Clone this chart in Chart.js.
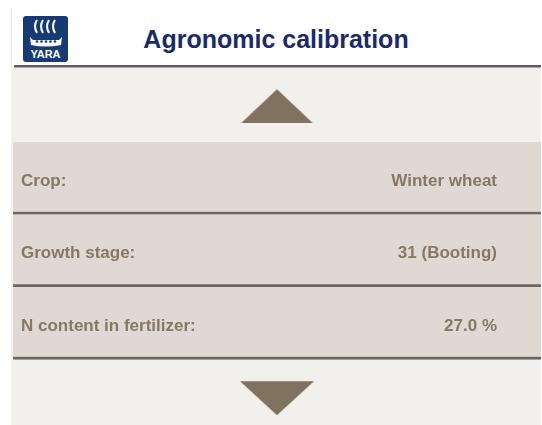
<!DOCTYPE html>
<html>
<head>
<meta charset="utf-8">
<script src="https://cdn.jsdelivr.net/npm/chart.js@4/dist/chart.umd.min.js"></script>
<style>
    html, body { margin: 0; padding: 0; width: 542px; height: 425px; overflow: hidden; background: #fff; font-family: "Liberation Sans", Arial, sans-serif; }
    .frame { position: absolute; left: 11px; top: 8px; width: 1px; height: 417px; background: #e9e7e3; }
    .header { position: absolute; left: 12px; top: 8px; width: 529px; height: 57px; background: #fff; }
    .header-line { position: absolute; left: 14px; top: 65px; width: 527px; height: 2px; background: #5e5e5e; border-bottom: 1px solid #a9a9a9; }
    .title { position: absolute; left: 11px; top: 26.5px; width: 530px; text-align: center; font-size: 25px; line-height: 25px; font-weight: bold; color: #1b2a6b; }
    .logo { position: absolute; left: 23px; top: 16px; }
    #panel { position: absolute; left: 11px; top: 68px; background: #f2f0ec; }
</style>
</head>
<body>
<div class="frame"></div>
<div class="header"></div>
<svg class="logo" width="45" height="46" viewBox="0 0 45 46">
    <rect x="0" y="0" width="45" height="46" rx="3" fill="#173a74"/>
    <g fill="none" stroke="#fff" stroke-width="2">
        <path d="M14 4 Q10 10 14 17"/>
        <path d="M20 4 Q16 10 20 17"/>
        <path d="M26 4 Q22 10 26 17"/>
        <path d="M32 4 Q28 10 32 17"/>
    </g>
    <path d="M7 21 L10 24 L36 24 L39 21 L38 29 Q22 32 8 29 Z" fill="#fff"/>
    <g fill="#173a74">
        <circle cx="14" cy="25.5" r="1.3"/><circle cx="18.5" cy="25.5" r="1.3"/>
        <circle cx="23" cy="25.5" r="1.3"/><circle cx="27.5" cy="25.5" r="1.3"/>
        <circle cx="32" cy="25.5" r="1.3"/>
    </g>
    <text x="22.5" y="42" text-anchor="middle" font-family="Liberation Sans, Arial" font-weight="bold" font-size="11" fill="#fff">YARA</text>
</svg>
<div class="title">Agronomic calibration</div>
<canvas id="panel" width="530" height="364"></canvas>
<div class="header-line"></div>

<script>
// Linhas do menu
const slots = ["up", "Crop:", "Growth stage:", "N content in fertilizer:", "down"];
const rowValues = ["", "Winter wheat", "31 (Booting)", "27.0 %", ""];
const rowFill = [null, 1, 1, 1, null];
const arrowUp = [{ x: 0.5, y: "up" }];
const arrowDown = [{ x: 0.5, y: "down" }];

// triangulo achatado (o do Chart.js e equilatero); gap = folga transparente em cima
function triangle(w, h, down, gap) {
    const c = document.createElement("canvas");
    c.width = w;
    c.height = h + gap;
    const ctx = c.getContext("2d");
    ctx.fillStyle = "#7f725f";
    ctx.beginPath();
    if (down) {
        ctx.moveTo(0, gap);
        ctx.lineTo(w, gap);
        ctx.lineTo(w / 2, gap + h);
    } else {
        ctx.moveTo(w / 2, gap);
        ctx.lineTo(w, gap + h);
        ctx.lineTo(0, gap + h);
    }
    ctx.closePath();
    ctx.fill();
    return c;
}

const textColor = "#857866";
const textFont = { family: "'Liberation Sans', Arial, sans-serif", size: 17, weight: "bold" };

// eixos espelhados nao devem ocupar espaco
const noSpace = (scale) => {
    scale.width = 0;
    scale.paddingTop = 0;
    scale.paddingBottom = 0;
};

new Chart(document.getElementById("panel"), {
    type: "bar",
    data: {
        labels: slots,
        datasets: [{
            data: rowFill,
            backgroundColor: "#e0d9d3",
            borderColor: "#6a6764",
            borderWidth: { bottom: 3 },
            borderSkipped: false,
            barPercentage: 1,
            categoryPercentage: 1
        }, {
            type: "scatter",
            data: arrowUp,
            pointStyle: triangle(72, 34, false, 1),
            pointRadius: 1
        }, {
            type: "scatter",
            data: arrowDown,
            pointStyle: triangle(74, 34, true, 5),
            pointRadius: 1
        }]
    },
    options: {
        indexAxis: "y",
        responsive: false,
        animation: false,
        layout: { autoPadding: false, padding: { top: 1.5, left: 2, right: 0, bottom: 0 } },
        plugins: {
            legend: { display: false },
            tooltip: { enabled: false }
        },
        scales: {
            x: {
                min: 0,
                max: 1,
                display: false
            },
            y: {
                position: "left",
                afterFit: noSpace,
                grid: { display: false },
                border: { display: false },
                ticks: {
                    z: 1,
                    mirror: true,
                    padding: 8,
                    labelOffset: 3,
                    autoSkip: false,
                    color: textColor,
                    font: textFont,
                    callback: (v, i) => (i === 0 || i === slots.length - 1) ? "" : slots[i]
                }
            },
            y2: {
                type: "category",
                labels: rowValues,
                position: "right",
                offset: true,
                afterFit: noSpace,
                grid: { display: false },
                border: { display: false },
                ticks: {
                    z: 1,
                    mirror: true,
                    padding: -44,
                    labelOffset: 3,
                    autoSkip: false,
                    color: textColor,
                    font: textFont
                }
            }
        }
    }
});
</script>
</body>
</html>
